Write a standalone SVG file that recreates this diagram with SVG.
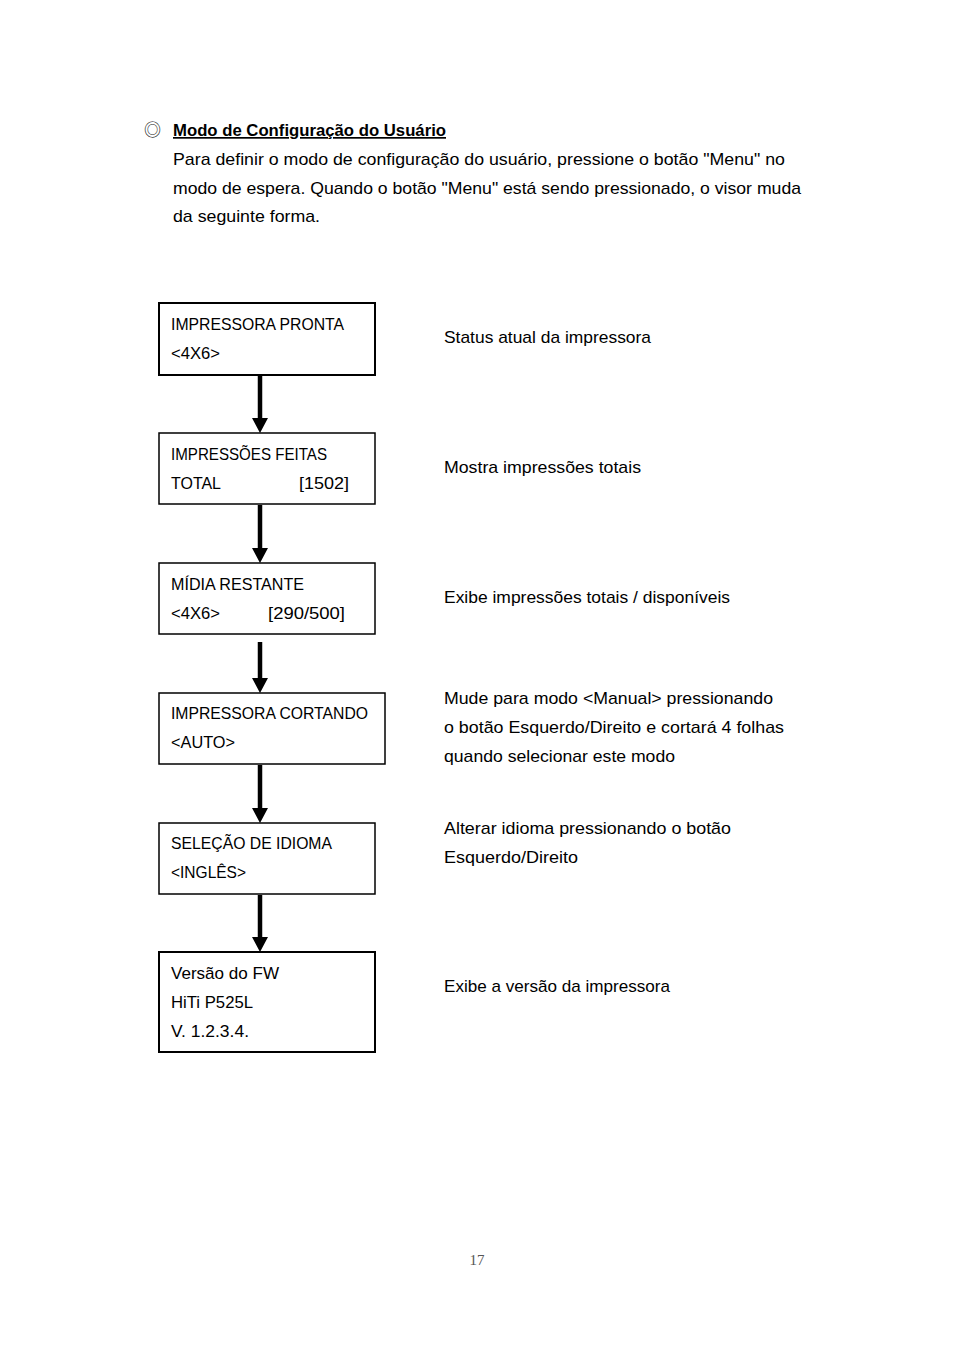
<svg xmlns="http://www.w3.org/2000/svg" width="954" height="1350" viewBox="0 0 954 1350">
<style>
text{font-family:"Liberation Sans","Open Sans",sans-serif;font-size:17px;fill:#000}
.h{font-weight:bold;text-decoration:underline}
.box{fill:#fff;stroke:#000;stroke-width:1.5}
.bold{stroke-width:2}
.ln{stroke:#000;stroke-width:4.5}
.pg{font-family:"Liberation Serif",serif;font-size:15px;fill:#555}
</style>
<defs>
<marker id="ah" markerUnits="userSpaceOnUse" markerWidth="15" markerHeight="16" refX="0" refY="8" orient="auto" overflow="visible">
<path d="M0,0 L15,8 L0,16 Z" fill="#000"/>
</marker>
</defs>
<g id="header">
<text x="144" y="136" style="font-family:'Noto Sans CJK SC',sans-serif;font-size:17px;fill:#222">◎</text>
<text class="h" x="173" y="136" textLength="273" lengthAdjust="spacingAndGlyphs">Modo de Configuração do Usuário</text>
<text x="173" y="165" textLength="612" lengthAdjust="spacingAndGlyphs">Para definir o modo de configuração do usuário, pressione o botão "Menu" no</text>
<text x="173" y="194" textLength="628" lengthAdjust="spacingAndGlyphs">modo de espera. Quando o botão "Menu" está sendo pressionado, o visor muda</text>
<text x="173" y="222" textLength="147" lengthAdjust="spacingAndGlyphs">da seguinte forma.</text>
</g>
<g id="connectors">
<line class="ln" x1="260" y1="376" x2="260" y2="418" marker-end="url(#ah)"/>
<line class="ln" x1="260" y1="505" x2="260" y2="548" marker-end="url(#ah)"/>
<line class="ln" x1="260" y1="642" x2="260" y2="678" marker-end="url(#ah)"/>
<line class="ln" x1="260" y1="765" x2="260" y2="808" marker-end="url(#ah)"/>
<line class="ln" x1="260" y1="895" x2="260" y2="937" marker-end="url(#ah)"/>
</g>
<g id="node1">
<rect class="box bold" x="159" y="303" width="216" height="72"/>
<text x="171" y="330" textLength="173" lengthAdjust="spacingAndGlyphs">IMPRESSORA PRONTA</text>
<text x="171" y="359" textLength="49" lengthAdjust="spacingAndGlyphs">&lt;4X6&gt;</text>
</g>
<g id="node2">
<rect class="box" x="159" y="433" width="216" height="71"/>
<text x="171" y="460" textLength="156" lengthAdjust="spacingAndGlyphs">IMPRESSÕES FEITAS</text>
<text x="171" y="489" textLength="50" lengthAdjust="spacingAndGlyphs">TOTAL</text>
<text x="299" y="489" textLength="50" lengthAdjust="spacingAndGlyphs">[1502]</text>
</g>
<g id="node3">
<rect class="box" x="159" y="563" width="216" height="71"/>
<text x="171" y="590" textLength="133" lengthAdjust="spacingAndGlyphs">MÍDIA RESTANTE</text>
<text x="171" y="619" textLength="49" lengthAdjust="spacingAndGlyphs">&lt;4X6&gt;</text>
<text x="268" y="619" textLength="77" lengthAdjust="spacingAndGlyphs">[290/500]</text>
</g>
<g id="node4">
<rect class="box" x="159" y="693" width="226" height="71"/>
<text x="171" y="719" textLength="197" lengthAdjust="spacingAndGlyphs">IMPRESSORA CORTANDO</text>
<text x="171" y="748" textLength="64" lengthAdjust="spacingAndGlyphs">&lt;AUTO&gt;</text>
</g>
<g id="node5">
<rect class="box" x="159" y="823" width="216" height="71"/>
<text x="171" y="849" textLength="161" lengthAdjust="spacingAndGlyphs">SELEÇÃO DE IDIOMA</text>
<text x="171" y="878" textLength="75" lengthAdjust="spacingAndGlyphs">&lt;INGLÊS&gt;</text>
</g>
<g id="node6">
<rect class="box bold" x="159" y="952" width="216" height="100"/>
<text x="171" y="979" textLength="108" lengthAdjust="spacingAndGlyphs">Versão do FW</text>
<text x="171" y="1008" textLength="82" lengthAdjust="spacingAndGlyphs">HiTi P525L</text>
<text x="171" y="1037" textLength="78" lengthAdjust="spacingAndGlyphs">V. 1.2.3.4.</text>
</g>
<g id="descriptions">
<text x="444" y="343" textLength="207" lengthAdjust="spacingAndGlyphs">Status atual da impressora</text>
<text x="444" y="473" textLength="197" lengthAdjust="spacingAndGlyphs">Mostra impressões totais</text>
<text x="444" y="603" textLength="286" lengthAdjust="spacingAndGlyphs">Exibe impressões totais / disponíveis</text>
<text x="444" y="704" textLength="329" lengthAdjust="spacingAndGlyphs">Mude para modo &lt;Manual&gt; pressionando</text>
<text x="444" y="733" textLength="340" lengthAdjust="spacingAndGlyphs">o botão Esquerdo/Direito e cortará 4 folhas</text>
<text x="444" y="762" textLength="231" lengthAdjust="spacingAndGlyphs">quando selecionar este modo</text>
<text x="444" y="834" textLength="287" lengthAdjust="spacingAndGlyphs">Alterar idioma pressionando o botão</text>
<text x="444" y="863" textLength="134" lengthAdjust="spacingAndGlyphs">Esquerdo/Direito</text>
<text x="444" y="992" textLength="226" lengthAdjust="spacingAndGlyphs">Exibe a versão da impressora</text>
</g>
<text class="pg" x="477" y="1265" text-anchor="middle">17</text>
</svg>
